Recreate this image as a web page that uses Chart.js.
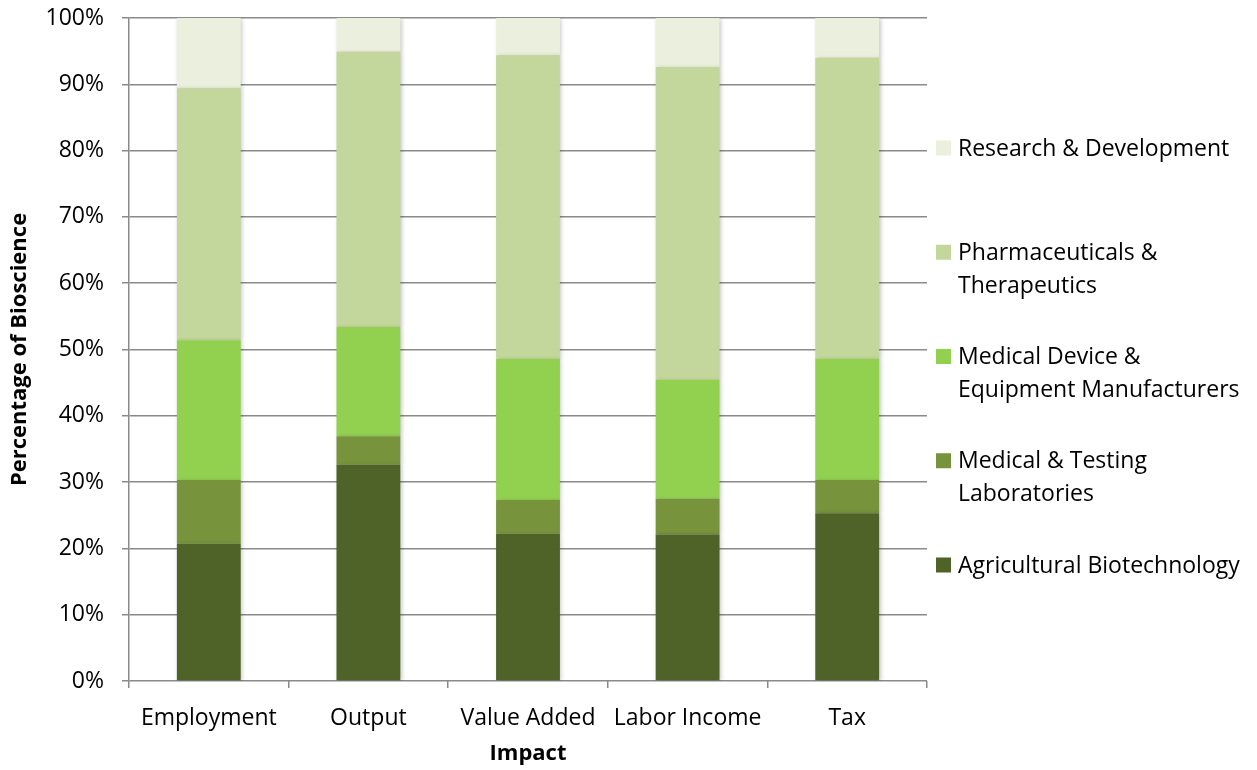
<!DOCTYPE html>
<html>
<head>
<meta charset="utf-8">
<script src="https://cdn.jsdelivr.net/npm/chart.js@4/dist/chart.umd.min.js"></script>
<style>
  html, body { margin: 0; padding: 0; background: #fff; }
  #wrap { width: 1257px; height: 770px; }
</style>
</head>
<body>
<div id="wrap"><canvas id="bioChart" width="1257" height="770"></canvas></div>
<script>
// categories and shares (% of bioscience)
var impacts = ['Employment', 'Output', 'Value Added', 'Labor Income', 'Tax'];
var agBiotech  = [20.7, 32.6, 22.2, 22.1, 25.3];
var medTesting = [9.6, 4.3, 5.1, 5.4, 5.0];
var medDevice  = [21.1, 16.5, 21.3, 17.9, 18.3];
var pharma     = [38.0, 41.5, 45.8, 47.2, 45.4];
var research   = [10.6, 5.1, 5.6, 7.4, 6.0];
var yTicks = [0, 10, 20, 30, 40, 50, 60, 70, 80, 90, 100];

// legend text (top to bottom), wrapped like the original
var legendLines = [
  ['Research & Development'],
  ['Pharmaceuticals &', 'Therapeutics'],
  ['Medical Device &', 'Equipment Manufacturers'],
  ['Medical & Testing', 'Laboratories'],
  ['Agricultural Biotechnology']
];

var FONT = '"Open Sans", Lato, sans-serif';
var gridGray = '#8a8a8a';

// soft shadow behind the bars
var barShadow = {
  id: 'barShadow',
  beforeDatasetsDraw: function(chart) {
    var c = chart.ctx;
    c.save();
    c.shadowColor = 'rgba(0,0,0,0.22)';
    c.shadowBlur = 4;
    c.shadowOffsetX = 1.5;
    c.shadowOffsetY = 1;
  },
  afterDatasetsDraw: function(chart) {
    chart.ctx.restore();
  }
};

// custom legend, right hand side, evenly spaced like Excel does it
var sideLegend = {
  id: 'sideLegend',
  afterDraw: function(chart) {
    var c = chart.ctx;
    var ds = chart.data.datasets.slice().reverse();
    c.save();
    c.font = '23px ' + FONT;
    c.textBaseline = 'middle';
    c.textAlign = 'left';
    for (var i = 0; i < ds.length; i++) {
      var y = 148 + i * 104.25;
      c.fillStyle = ds[i].backgroundColor;
      c.fillRect(936, y - 7.5, 15, 15);
      c.fillStyle = '#000';
      for (var j = 0; j < legendLines[i].length; j++) {
        c.fillText(legendLines[i][j], 958, y + 1 + j * 33);
      }
    }
    c.restore();
  }
};

var ctx = document.getElementById('bioChart').getContext('2d');
var bioChart = new Chart(ctx, {
  type: 'bar',
  data: {
    labels: impacts,
    datasets: [
      { label: 'Agricultural Biotechnology', data: agBiotech, backgroundColor: '#4F6228' },
      { label: 'Medical & Testing Laboratories', data: medTesting, backgroundColor: '#77933C' },
      { label: 'Medical Device & Equipment Manufacturers', data: medDevice, backgroundColor: '#92D050' },
      { label: 'Pharmaceuticals & Therapeutics', data: pharma, backgroundColor: '#C3D69B' },
      { label: 'Research & Development', data: research, backgroundColor: '#EBF0DE' }
    ]
  },
  options: {
    responsive: false,
    animation: false,
    layout: { padding: { top: 18, right: 330, bottom: 0, left: 0 } },
    datasets: { bar: { categoryPercentage: 1, barPercentage: 0.4, borderWidth: 0 } },
    plugins: {
      legend: { display: false },
      tooltip: { enabled: false }
    },
    scales: {
      x: {
        stacked: true,
        grid: { offset: true, drawOnChartArea: false, drawTicks: true, tickLength: 7, color: gridGray, lineWidth: 1.5 },
        border: { display: false },
        ticks: { color: '#000', font: { family: FONT, size: 23 }, padding: 17, maxRotation: 0 },
        title: { display: true, text: 'Impact', color: '#000', font: { family: FONT, size: 22, weight: 'bold' }, padding: { top: 0, bottom: 3 } },
        afterFit: function(s) { s.height = 89; s.paddingLeft = 0; s.paddingRight = 0; }
      },
      y: {
        stacked: true,
        min: 0,
        max: 100,
        afterBuildTicks: function(s) { s.ticks = yTicks.map(function(v) { return { value: v }; }); },
        grid: { color: gridGray, lineWidth: 1.5, tickLength: 7 },
        border: { color: gridGray, width: 1.5 },
        ticks: { color: '#000', font: { family: FONT, size: 23 }, padding: 18, callback: function(v) { return v + '%'; } },
        title: { display: true, text: 'Percentage of Bioscience', color: '#000', font: { family: FONT, size: 22, weight: 'bold' }, padding: { top: 7, bottom: 0 } },
        afterFit: function(s) { s.width = 129; s.paddingTop = 0; s.paddingBottom = 0; }
      }
    }
  },
  plugins: [barShadow, sideLegend]
});
</script>
</body>
</html>
